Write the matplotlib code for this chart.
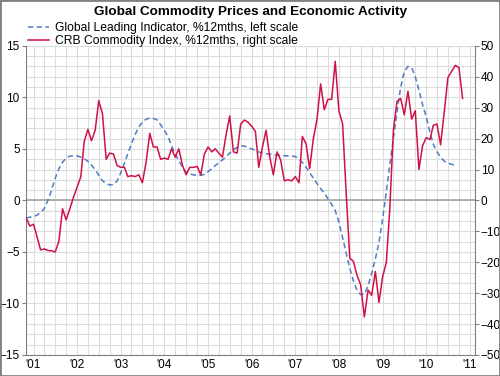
import matplotlib
matplotlib.use('Agg')
import matplotlib.pyplot as plt
import matplotlib.dates as mdates
import matplotlib.patches as patches
from matplotlib.ticker import MultipleLocator
import pandas as pd
import numpy as np

plt.rcParams['font.family'] = ['Liberation Sans', 'DejaVu Sans']

# --- data ---
titel = 'Global Commodity Prices and Economic Activity'
gli_label = 'Global Leading Indicator, %12mths, left scale'
crb_label = 'CRB Commodity Index, %12mths, right scale'

# Global Leading Indicator, % yoy (left scale), monthly from Nov 2000
gli = [-1.7, -1.63, -1.56, -1.42, -1.17, -0.81, 0.0, 1.0, 2.13, 3.07,
       3.71, 4.1, 4.3, 4.33, 4.32, 4.2, 4.05, 3.79, 3.43, 2.98,
       2.45, 1.9, 1.65, 1.5, 1.53, 1.86, 2.67, 3.6, 4.53, 5.5,
       6.37, 7.11, 7.6, 7.87, 8.0, 7.96, 7.81, 7.34, 6.78, 6.2,
       5.3, 4.5, 3.85, 3.2, 2.73, 2.57, 2.48, 2.42, 2.44, 2.53,
       2.79, 3.08, 3.38, 3.65, 3.94, 4.26, 4.59, 4.92, 5.16, 5.3,
       5.27, 5.13, 5.0, 4.86, 4.7, 4.59, 4.53, 4.49, 4.45, 4.4,
       4.36, 4.34, 4.32, 4.3, 4.26, 4.0, 3.68, 3.22, 2.7, 2.16,
       1.63, 1.16, 0.7, 0.17, -0.37, -0.97, -2.1, -3.6, -5.1, -6.6,
       -7.8, -8.75, -9.15, -9.1, -8.3, -7.1, -5.7, -4.1, -1.8, 0.85,
       3.4, 6.0, 8.6, 11.0, 12.5, 13.0, 12.9, 12.0, 10.7, 9.3,
       8.1, 6.6, 5.45, 4.7, 4.2, 3.8, 3.63, 3.5, 3.42]

# CRB Commodity Index, % yoy (right scale), monthly from Nov 2000
crb = [-5.7, -8.3, -7.7, -12.0, -16.0, -15.7, -16.2, -16.3, -16.7, -13.3,
       -2.7, -6.3, -2.7, 1.0, 4.3, 7.7, 19.0, 23.0, 19.3, 22.7,
       32.3, 28.0, 13.3, 15.3, 15.0, 11.3, 10.7, 10.7, 7.7, 8.0,
       7.7, 8.3, 5.7, 12.3, 21.7, 17.3, 17.3, 13.3, 13.7, 13.3,
       16.7, 14.0, 16.7, 11.3, 8.3, 10.7, 10.7, 11.0, 8.3, 15.0,
       17.3, 15.7, 16.7, 15.3, 14.0, 21.3, 27.3, 15.7, 15.3, 24.7,
       26.0, 25.3, 24.0, 22.3, 10.7, 17.3, 22.7, 14.0, 8.3, 15.7,
       13.0, 6.3, 6.7, 6.3, 7.7, 5.7, 20.7, 18.3, 10.3, 20.0,
       26.0, 37.7, 29.3, 32.7, 32.7, 45.0, 29.0, 24.7, 3.0, -18.7,
       -19.7, -24.3, -27.3, -37.7, -29.0, -30.7, -23.0, -33.0, -24.7, -20.0,
       -3.3, 22.7, 32.0, 33.0, 27.7, 35.3, 26.3, 29.0, 10.0, 17.7,
       20.3, 19.7, 24.3, 24.7, 18.0, 28.7, 39.7, 41.7, 43.7, 43.0,
       33.0]

crb_dates = pd.date_range('2000-11-01', periods=len(crb), freq='MS')
gli_dates = crb_dates[:len(gli)]

jaren = list(range(2001, 2012))
jaar_labels = ["'%02d" % (j % 100) for j in jaren]
links_ticks = [-15, -10, -5, 0, 5, 10, 15]
rechts_ticks = [-50, -40, -30, -20, -10, 0, 10, 20, 30, 40, 50]

# --- figure ---
fig = plt.figure(figsize=(5, 3.76), dpi=100)
ax = fig.add_axes([0.052, 0.056, 0.898, 0.822])
ax2 = ax.twinx()

grijs = '#808080'

# raster
ax.set_ylim(-15, 15)
ax.set_yticks(links_ticks)
ax.yaxis.set_minor_locator(MultipleLocator(1))
ax.xaxis.set_minor_locator(mdates.MonthLocator(bymonth=[1, 4, 7, 10]))
ax.grid(which='both', color='#dcdcdc', linewidth=0.8)
ax.set_axisbelow(True)
ax.axhline(0, color='#a8a8a8', linewidth=1.3, zorder=1)

# lijnen
l1, = ax.plot(gli_dates, gli, color='#4f7bc6', linewidth=1.1,
              dashes=(3.5, 2.2), zorder=3)
l2, = ax2.plot(crb_dates, crb, color='#cf1146', linewidth=1.1, zorder=4)

ax.set_xlim(pd.Timestamp('2000-10-30'), pd.Timestamp('2011-02-13'))
ax.set_xticks([pd.Timestamp(f'{j}-01-01') for j in jaren])
ax.set_xticklabels(jaar_labels)

ax2.set_ylim(-50, 50)
ax2.set_yticks(rechts_ticks)

# assen
for s in ['top', 'right']:
    ax.spines[s].set_visible(False)
for s in ['left', 'bottom']:
    ax.spines[s].set_color(grijs)
for s in ['top', 'left', 'bottom']:
    ax2.spines[s].set_visible(False)
ax2.spines['right'].set_color(grijs)

ax.tick_params(axis='y', which='major', length=3, color=grijs, labelsize=8.5, pad=1.5)
ax.tick_params(axis='y', which='minor', length=0)
ax.tick_params(axis='x', which='major', length=0, labelsize=8.5, pad=3)
ax.tick_params(axis='x', which='minor', length=0)
ax2.tick_params(axis='y', length=3, color=grijs, labelsize=8.5, pad=1)

# titel en legenda
fig.text(0.5, 1 - 12 / 376, titel, ha='center', va='center',
         fontsize=9.7, fontweight='bold')
fig.legend([l1, l2], [gli_label, crb_label], loc='upper left',
           bbox_to_anchor=(0.047, 0.955), frameon=False, fontsize=8.7,
           handlelength=1.7, handletextpad=0.5, labelspacing=0.12,
           borderpad=0.4, borderaxespad=0)

# rand om de figuur
fig.add_artist(patches.Rectangle((0, 0), 1, 1, transform=fig.transFigure,
                                 fill=False, edgecolor=grijs, linewidth=2))

fig.savefig('out.png', dpi=100)
